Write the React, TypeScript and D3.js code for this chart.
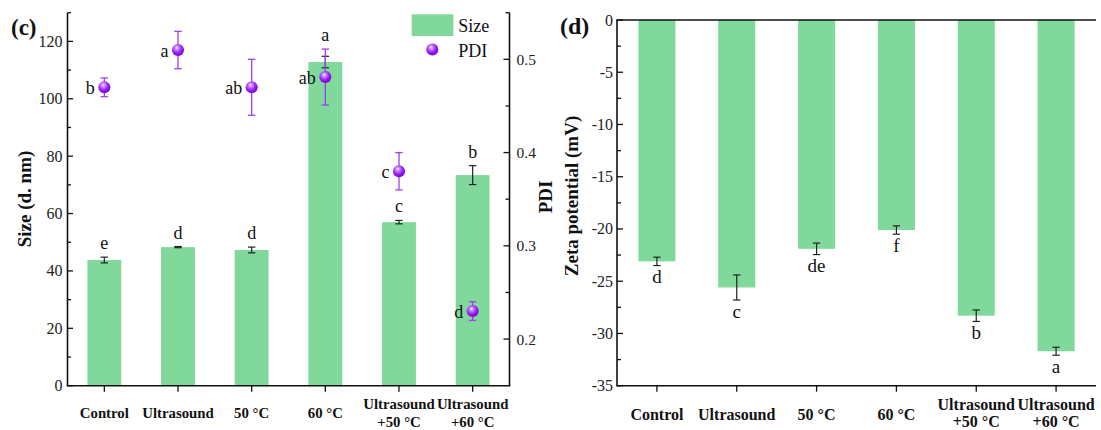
import React from 'react';
import * as d3 from 'd3';

const categories: string[][] = [
  ['Control'],
  ['Ultrasound'],
  ['50 °C'],
  ['60 °C'],
  ['Ultrasound', '+50 °C'],
  ['Ultrasound', '+60 °C'],
];
const sizeValues = [43.8, 48.3, 47.3, 112.8, 57.0, 73.4];
const sizeErrors = [1.0, 0.2, 1.0, 2.0, 0.6, 3.3];
const sizeLetters = ['e', 'd', 'd', 'a', 'c', 'b'];
const pdiValues = [0.47, 0.51, 0.47, 0.481, 0.38, 0.23];
const pdiErrors = [0.01, 0.02, 0.03, 0.03, 0.02, 0.01];
const pdiLetters = ['b', 'a', 'ab', 'ab', 'c', 'd'];
const zetaValues = [-23.1, -25.6, -21.9, -20.1, -28.3, -31.7];
const zetaErrors = [0.4, 1.2, 0.55, 0.4, 0.55, 0.38];
const zetaLetters = ['d', 'c', 'de', 'f', 'b', 'a'];
const sizeTicks = [0, 20, 40, 60, 80, 100, 120];
const sizeMinorTicks = [10, 30, 50, 70, 90, 110, 130];
const pdiTicks = [0.2, 0.3, 0.4, 0.5];
const pdiMinorTicks = [0.25, 0.35, 0.45, 0.55];
const zetaTicks = [0, -5, -10, -15, -20, -25, -30, -35];
const zetaMinorTicks = [-2.5, -7.5, -12.5, -17.5, -22.5, -27.5, -32.5];

const FONT = "'Liberation Serif', 'Times New Roman', serif";
const GREEN = '#80d99b';
const PURPLE_ERR = '#a040f2';
const AX = '#111';
const AXW = 1.6;

const idx = categories.map((_, i) => String(i));

function XLabels({ x, y1, y2, ySingle, size, lineGap }: any) {
  return (
    <g>
      {categories.map((lines, i) => {
        const cx = x(idx[i])! + x.bandwidth() / 2;
        if (lines.length === 1) {
          return (
            <text key={i} x={cx} y={ySingle} textAnchor="middle" fontWeight="bold" fontSize={size} fontFamily={FONT} fill="#111">
              {lines[0]}
            </text>
          );
        }
        return (
          <text key={i} x={cx} y={y1} textAnchor="middle" fontWeight="bold" fontSize={size} fontFamily={FONT} fill="#111">
            <tspan x={cx} y={y1}>{lines[0]}</tspan>
            <tspan x={cx} y={y1 + lineGap}>{lines[1]}</tspan>
          </text>
        );
      })}
    </g>
  );
}

function LeftChart() {
  const x0 = 67.5, x1 = 509.5, yTop = 12.7, yBot = 385.7;
  const x = d3.scaleBand<string>().domain(idx).range([x0, x1]).paddingInner(0).paddingOuter(0);
  const y = d3.scaleLinear().domain([0, 130]).range([yBot, yTop]);
  const yp = d3.scaleLinear().domain([0.15, 0.55]).range([yBot, yTop]);
  const bw = x.bandwidth() * 0.46;
  const cap = 3.7;
  return (
    <g>
      {sizeValues.map((v, i) => {
        const cx = x(idx[i])! + x.bandwidth() / 2;
        return <rect key={'b' + i} x={cx - bw / 2} y={y(v)} width={bw} height={y(0) - y(v)} fill={GREEN} />;
      })}
      {sizeValues.map((v, i) => {
        const cx = x(idx[i])! + x.bandwidth() / 2;
        const t = y(v + sizeErrors[i]), b = y(v - sizeErrors[i]);
        return (
          <g key={'e' + i} stroke="#222" strokeWidth={1.2}>
            <line x1={cx} x2={cx} y1={t} y2={b} />
            <line x1={cx - cap} x2={cx + cap} y1={t} y2={t} />
            <line x1={cx - cap} x2={cx + cap} y1={b} y2={b} />
          </g>
        );
      })}
      {pdiValues.map((v, i) => {
        const cx = x(idx[i])! + x.bandwidth() / 2;
        const t = yp(v + pdiErrors[i]), b = yp(v - pdiErrors[i]);
        return (
          <g key={'pe' + i} stroke={PURPLE_ERR} strokeWidth={1.3}>
            <line x1={cx} x2={cx} y1={t} y2={b} />
            <line x1={cx - cap} x2={cx + cap} y1={t} y2={t} />
            <line x1={cx - cap} x2={cx + cap} y1={b} y2={b} />
          </g>
        );
      })}
      {pdiValues.map((v, i) => {
        const cx = x(idx[i])! + x.bandwidth() / 2;
        return <circle key={'p' + i} cx={cx} cy={yp(v)} r={6} fill="url(#sphere)" />;
      })}
      {pdiValues.map((v, i) => {
        const cx = x(idx[i])! + x.bandwidth() / 2;
        return (
          <text key={'pl' + i} x={cx - 9.5} y={yp(v) + 6.5} textAnchor="end" fontSize={18} fontFamily={FONT} fill="#111">
            {pdiLetters[i]}
          </text>
        );
      })}
      {sizeValues.map((v, i) => {
        const cx = x(idx[i])! + x.bandwidth() / 2;
        const errTop = y(v + sizeErrors[i]);
        let ly = errTop - 8;
        const pt = yp(pdiValues[i] + pdiErrors[i]);
        const pb = yp(pdiValues[i] - pdiErrors[i]);
        if (pb > ly - 20 && pt < errTop) ly = Math.min(ly, pt - 8);
        return (
          <text key={'sl' + i} x={cx} y={ly} textAnchor="middle" fontSize={18} fontFamily={FONT} fill="#111">
            {sizeLetters[i]}
          </text>
        );
      })}
      {/* axes */}
      <line x1={x0} x2={x0} y1={yTop} y2={yBot} stroke={AX} strokeWidth={AXW} />
      <line x1={x1} x2={x1} y1={yTop} y2={yBot} stroke={AX} strokeWidth={AXW} />
      <line x1={x0 - 0.8} x2={x1 + 0.8} y1={yBot} y2={yBot} stroke={AX} strokeWidth={AXW} />
      {sizeTicks.map((t) => (
        <g key={'st' + t}>
          <line x1={x0} x2={x0 + 5.5} y1={y(t)} y2={y(t)} stroke={AX} strokeWidth={1.3} />
          <text x={x0 - 5} y={y(t) + 5.5} textAnchor="end" fontSize={16} fontFamily={FONT} fill="#222">{t}</text>
        </g>
      ))}
      {sizeMinorTicks.map((t) => (
        <line key={'sm' + t} x1={x0} x2={x0 + 3.5} y1={y(t)} y2={y(t)} stroke={AX} strokeWidth={1.3} />
      ))}
      {pdiTicks.map((t) => (
        <g key={'pt' + t}>
          <line x1={x1} x2={x1 - 6} y1={yp(t)} y2={yp(t)} stroke={AX} strokeWidth={1.3} />
          <text x={x1 + 7} y={yp(t) + 5.5} textAnchor="start" fontSize={15.5} fontFamily={FONT} fill="#222">{t.toFixed(1)}</text>
        </g>
      ))}
      {pdiMinorTicks.map((t) => (
        <line key={'pm' + t} x1={x1} x2={x1 - 4} y1={yp(t)} y2={yp(t)} stroke={AX} strokeWidth={1.3} />
      ))}
      {idx.map((d) => {
        const cx = x(d)! + x.bandwidth() / 2;
        return <line key={'xt' + d} x1={cx} x2={cx} y1={yBot} y2={yBot + 6} stroke={AX} strokeWidth={1.3} />;
      })}
      <XLabels x={x} y1={408.5} ySingle={418} size={14.8} lineGap={18.5} />
      <text transform={`translate(30.5,199) rotate(-90)`} textAnchor="middle" fontWeight="bold" fontSize={19} fontFamily={FONT} fill="#111">
        Size (d. nm)
      </text>
      <text transform={`translate(551.5,197) rotate(-90)`} textAnchor="middle" fontWeight="bold" fontSize={19} fontFamily={FONT} fill="#111">
        PDI
      </text>
      <text x={11} y={35} fontWeight="bold" fontSize={23} fontFamily={FONT} fill="#111">(c)</text>
      {/* legend */}
      <rect x={411.7} y={14.3} width={41.6} height={21.7} fill={GREEN} />
      <text x={458.3} y={31.5} fontSize={18} fontFamily={FONT} fill="#111">Size</text>
      <circle cx={432.3} cy={49.5} r={6} fill="url(#sphere)" />
      <text x={458.3} y={56.5} fontSize={18} fontFamily={FONT} fill="#111">PDI</text>
    </g>
  );
}

function RightChart() {
  const x0 = 617, x1 = 1096, yTop = 20, yBot = 385.7;
  const x = d3.scaleBand<string>().domain(idx).range([x0, x1]).paddingInner(0).paddingOuter(0);
  const y = d3.scaleLinear().domain([0, -35]).range([yTop, yBot]);
  const bw = x.bandwidth() * 0.464;
  const cap = 3.7;
  return (
    <g>
      {zetaValues.map((v, i) => {
        const cx = x(idx[i])! + x.bandwidth() / 2;
        return <rect key={'b' + i} x={cx - bw / 2} y={y(0)} width={bw} height={y(v) - y(0)} fill={GREEN} />;
      })}
      {zetaValues.map((v, i) => {
        const cx = x(idx[i])! + x.bandwidth() / 2;
        const t = y(v + zetaErrors[i]), b = y(v - zetaErrors[i]);
        return (
          <g key={'e' + i} stroke="#222" strokeWidth={1.2}>
            <line x1={cx} x2={cx} y1={t} y2={b} />
            <line x1={cx - cap} x2={cx + cap} y1={t} y2={t} />
            <line x1={cx - cap} x2={cx + cap} y1={b} y2={b} />
          </g>
        );
      })}
      {zetaValues.map((v, i) => {
        const cx = x(idx[i])! + x.bandwidth() / 2;
        return (
          <text key={'l' + i} x={cx} y={y(v - zetaErrors[i]) + 17.5} textAnchor="middle" fontSize={19} fontFamily={FONT} fill="#111">
            {zetaLetters[i]}
          </text>
        );
      })}
      <line x1={x0} x2={x0} y1={yTop} y2={yBot} stroke={AX} strokeWidth={AXW} />
      <line x1={x0 - 0.8} x2={x1} y1={yTop} y2={yTop} stroke={AX} strokeWidth={AXW} />
      <line x1={x0 - 0.8} x2={x1} y1={yBot} y2={yBot} stroke={AX} strokeWidth={AXW} />
      {zetaTicks.map((t) => (
        <g key={'zt' + t}>
          <line x1={x0} x2={x0 + 6} y1={y(t)} y2={y(t)} stroke={AX} strokeWidth={1.3} />
          <text x={x0 - 4} y={y(t) + 5.5} textAnchor="end" fontSize={16} fontFamily={FONT} fill="#222">{t}</text>
        </g>
      ))}
      {zetaMinorTicks.map((t) => (
        <line key={'zm' + t} x1={x0} x2={x0 + 4} y1={y(t)} y2={y(t)} stroke={AX} strokeWidth={1.3} />
      ))}
      {idx.map((d) => {
        const cx = x(d)! + x.bandwidth() / 2;
        return <line key={'xt' + d} x1={cx} x2={cx} y1={yBot} y2={yBot + 6} stroke={AX} strokeWidth={1.3} />;
      })}
      <XLabels x={x} y1={409.5} ySingle={420} size={16} lineGap={17.5} />
      <text transform={`translate(578,196) rotate(-90)`} textAnchor="middle" fontWeight="bold" fontSize={19} fontFamily={FONT} fill="#111">
        Zeta potential (mV)
      </text>
      <text x={560} y={34} fontWeight="bold" fontSize={24} fontFamily={FONT} fill="#111">(d)</text>
    </g>
  );
}

export default function App() {
  return (
    <svg width={1101} height={430} style={{ position: 'absolute', left: 0, top: 0, background: '#fff' }}>
      <defs>
        <radialGradient id="sphere" cx="0.42" cy="0.38" r="0.62" fx="0.4" fy="0.3">
          <stop offset="0%" stopColor="#f6ecff" />
          <stop offset="25%" stopColor="#c989ff" />
          <stop offset="65%" stopColor="#9a1ef5" />
          <stop offset="100%" stopColor="#7800d2" />
        </radialGradient>
      </defs>
      <rect x={0} y={0} width={1101} height={430} fill="#fff" />
      <LeftChart />
      <RightChart />
    </svg>
  );
}
